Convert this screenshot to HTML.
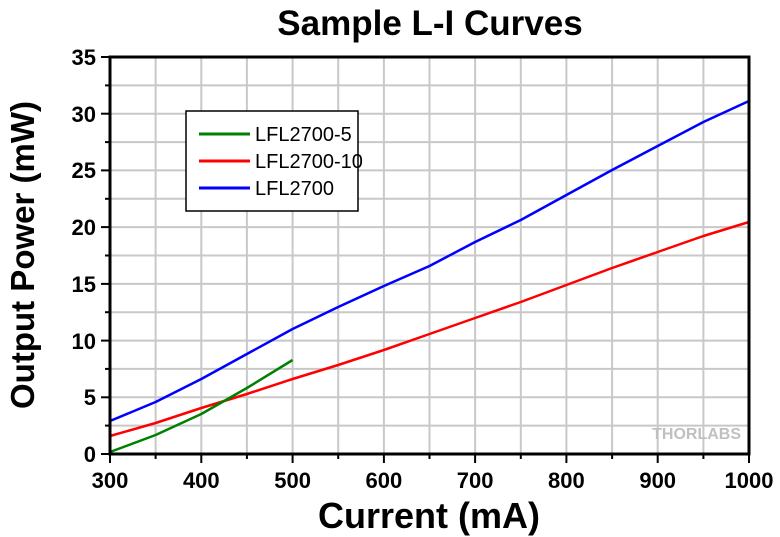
<!DOCTYPE html>
<html><head><style>body{margin:0;background:#fff}svg{display:block}</style></head><body>
<svg width="780" height="537" xmlns="http://www.w3.org/2000/svg" font-family="Liberation Sans, Arial, sans-serif">
<rect width="780" height="537" fill="#fff"/>
<g stroke="#c8c8c8" stroke-width="2">
<line x1="155.6" y1="57" x2="155.6" y2="454"/><line x1="201.3" y1="57" x2="201.3" y2="454"/><line x1="246.9" y1="57" x2="246.9" y2="454"/><line x1="292.6" y1="57" x2="292.6" y2="454"/><line x1="338.2" y1="57" x2="338.2" y2="454"/><line x1="383.9" y1="57" x2="383.9" y2="454"/><line x1="429.5" y1="57" x2="429.5" y2="454"/><line x1="475.1" y1="57" x2="475.1" y2="454"/><line x1="520.8" y1="57" x2="520.8" y2="454"/><line x1="566.4" y1="57" x2="566.4" y2="454"/><line x1="612.1" y1="57" x2="612.1" y2="454"/><line x1="657.7" y1="57" x2="657.7" y2="454"/><line x1="703.4" y1="57" x2="703.4" y2="454"/>
<line x1="110" y1="425.6" x2="749" y2="425.6"/><line x1="110" y1="397.3" x2="749" y2="397.3"/><line x1="110" y1="368.9" x2="749" y2="368.9"/><line x1="110" y1="340.6" x2="749" y2="340.6"/><line x1="110" y1="312.2" x2="749" y2="312.2"/><line x1="110" y1="283.9" x2="749" y2="283.9"/><line x1="110" y1="255.5" x2="749" y2="255.5"/><line x1="110" y1="227.1" x2="749" y2="227.1"/><line x1="110" y1="198.8" x2="749" y2="198.8"/><line x1="110" y1="170.4" x2="749" y2="170.4"/><line x1="110" y1="142.1" x2="749" y2="142.1"/><line x1="110" y1="113.7" x2="749" y2="113.7"/><line x1="110" y1="85.4" x2="749" y2="85.4"/>
</g>
<text x="741" y="439" font-size="16" font-weight="bold" fill="#c0c0c0" text-anchor="end">THORLABS</text>
<g fill="none" stroke-width="2.5" stroke-linejoin="round">
<polyline stroke="#0000ff" points="110,421 155.6,402 201.3,379 246.9,354 292.6,329 338.2,307 383.9,286 429.5,266 475.1,242 520.8,220 566.4,195 612.1,170 657.7,146 703.4,122 749,101"/>
<polyline stroke="#ff0000" points="110,436 155.6,423 201.3,408 246.9,394 292.6,379 338.2,365 383.9,350 429.5,334 475.1,318 520.8,302 566.4,285 612.1,268 657.7,252 703.4,236 749,222"/>
<polyline stroke="#008000" points="110,452 155.6,435 201.3,414 246.9,388 292.6,360"/>
</g>
<g stroke="#000" stroke-width="3" fill="none"><rect x="110" y="57" width="639" height="397"/></g>
<g stroke="#000" stroke-width="2">
<line x1="101" y1="454" x2="110" y2="454"/><line x1="101" y1="397.3" x2="110" y2="397.3"/><line x1="101" y1="340.6" x2="110" y2="340.6"/><line x1="101" y1="283.9" x2="110" y2="283.9"/><line x1="101" y1="227.1" x2="110" y2="227.1"/><line x1="101" y1="170.4" x2="110" y2="170.4"/><line x1="101" y1="113.7" x2="110" y2="113.7"/><line x1="101" y1="57" x2="110" y2="57"/>
<line x1="105" y1="425.6" x2="110" y2="425.6"/><line x1="105" y1="368.9" x2="110" y2="368.9"/><line x1="105" y1="312.2" x2="110" y2="312.2"/><line x1="105" y1="255.5" x2="110" y2="255.5"/><line x1="105" y1="198.8" x2="110" y2="198.8"/><line x1="105" y1="142.1" x2="110" y2="142.1"/><line x1="105" y1="85.4" x2="110" y2="85.4"/>
<line x1="110" y1="454" x2="110" y2="463"/><line x1="201.3" y1="454" x2="201.3" y2="463"/><line x1="292.6" y1="454" x2="292.6" y2="463"/><line x1="383.9" y1="454" x2="383.9" y2="463"/><line x1="475.1" y1="454" x2="475.1" y2="463"/><line x1="566.4" y1="454" x2="566.4" y2="463"/><line x1="657.7" y1="454" x2="657.7" y2="463"/><line x1="749" y1="454" x2="749" y2="463"/>
<line x1="155.6" y1="454" x2="155.6" y2="459"/><line x1="246.9" y1="454" x2="246.9" y2="459"/><line x1="338.2" y1="454" x2="338.2" y2="459"/><line x1="429.5" y1="454" x2="429.5" y2="459"/><line x1="520.8" y1="454" x2="520.8" y2="459"/><line x1="612.1" y1="454" x2="612.1" y2="459"/><line x1="703.4" y1="454" x2="703.4" y2="459"/>
</g>
<g font-size="22" font-weight="bold" text-anchor="end" fill="#000">
<text x="96" y="462">0</text><text x="96" y="405">5</text><text x="96" y="349">10</text><text x="96" y="292">15</text><text x="96" y="235">20</text><text x="96" y="178">25</text><text x="96" y="122">30</text><text x="96" y="65">35</text>
</g>
<g font-size="22" font-weight="bold" text-anchor="middle" fill="#000">
<text x="110" y="488">300</text><text x="201.3" y="488">400</text><text x="292.6" y="488">500</text><text x="383.9" y="488">600</text><text x="475.1" y="488">700</text><text x="566.4" y="488">800</text><text x="657.7" y="488">900</text><text x="749" y="488">1000</text>
</g>
<text x="430" y="35" font-size="35" font-weight="bold" text-anchor="middle">Sample L-I Curves</text>
<text x="429" y="528" font-size="36" font-weight="bold" text-anchor="middle">Current (mA)</text>
<text transform="translate(34,255) rotate(-90)" font-size="33" font-weight="bold" text-anchor="middle">Output Power (mW)</text>
<rect x="186" y="111" width="172" height="100" fill="#fff" stroke="#000" stroke-width="1.5"/>
<g stroke-width="3"><line x1="199" y1="134" x2="250" y2="134" stroke="#008000"/><line x1="199" y1="161" x2="250" y2="161" stroke="#ff0000"/><line x1="199" y1="188" x2="250" y2="188" stroke="#0000ff"/></g>
<g font-size="20"><text x="255" y="141">LFL2700-5</text><text x="255" y="168">LFL2700-10</text><text x="255" y="195">LFL2700</text></g>
</svg>
</body></html>
